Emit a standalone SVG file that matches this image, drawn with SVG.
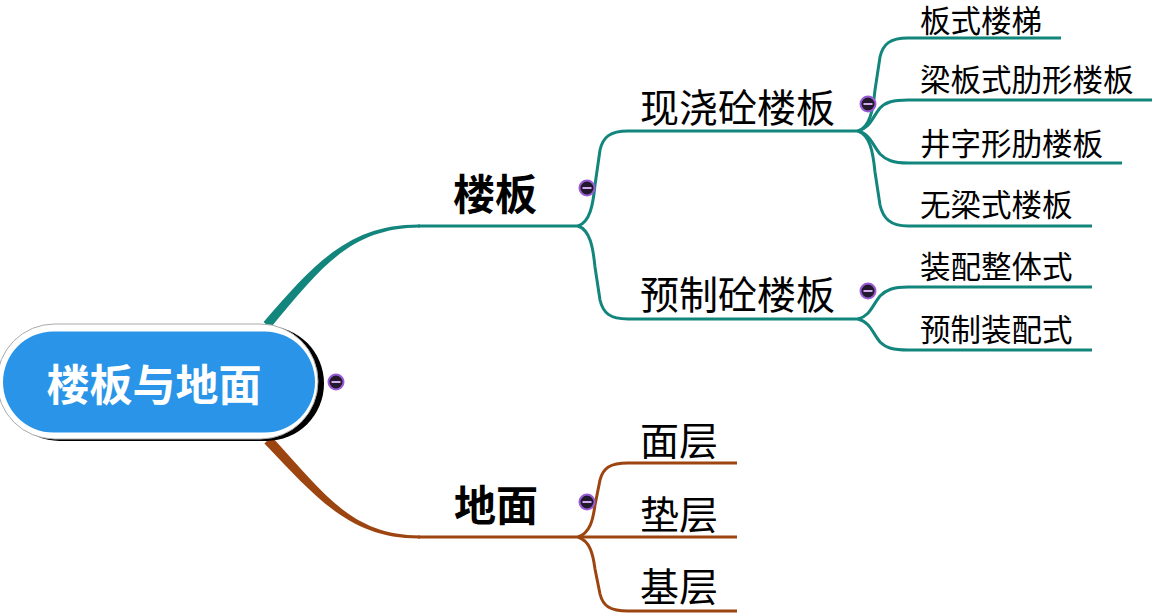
<svg xmlns="http://www.w3.org/2000/svg" width="1153" height="614" viewBox="0 0 1153 614">
<defs>
<style>
.t{fill:none;stroke:#12857D;stroke-width:3;stroke-linecap:butt}
.b{fill:none;stroke:#9C4511;stroke-width:3}
.tf{fill:#12857D}
.bf{fill:#9C4511}
.l1{font-family:"Noto Sans CJK SC","Liberation Sans",sans-serif;font-weight:700;font-size:42px;fill:#000;dominant-baseline:central}
.l2{font-family:"Noto Sans CJK SC","Liberation Sans",sans-serif;font-weight:400;font-size:39px;fill:#000;dominant-baseline:central}
.l3{font-family:"Noto Sans CJK SC","Liberation Sans",sans-serif;font-weight:400;font-size:30.5px;fill:#000;dominant-baseline:central}
.root{font-family:"Noto Sans CJK SC","Liberation Sans",sans-serif;font-weight:700;font-size:43px;fill:#fff;dominant-baseline:central}
</style>
<g id="btn">
<circle r="7.5" fill="#221a2c" stroke="#9A5CD6" stroke-width="2"/>
<line x1="-4.5" y1="0" x2="4.5" y2="0" stroke="#D2A8F0" stroke-width="2"/>
</g>
</defs>
<rect width="1153" height="614" fill="#fff"/>
<g id="connectors">
<path class="tf" d="M263.6,322.1 C315,262.5 350,224 420,224.5 L420,227.5 C350,228 321,267.5 270.4,327.9 Z"/>
<path class="t" d="M418,226 L580,226"/>
<path class="bf" d="M271.6,436.6 C323,492 350,535 420,535.5 L420,538.5 C350,539 317,498 264.4,443.4 Z"/>
<path class="b" d="M418,537 L580,537"/>
<path class="t" d="M578,226 C590,222 593,205 595,185 L600,150 C603,137 610,131 628,131 L860,131"/>
<path class="t" d="M578,226 C590,230 593,247 595,267 L600,300 C603,313 610,319 628,319 L860,319"/>
<path class="t" d="M858,131 C870,127 873,110 875,90 L880,57 C883,44 890,38 908,38 L1061,38"/>
<path class="t" d="M858,131 C870,128 872,118 880,108 C886,102 893,100 908,100 L1152,100"/>
<path class="t" d="M858,131 C870,134 872,144 880,154 C886,160 893,163 908,163 L1122,163"/>
<path class="t" d="M858,131 C870,135 873,152 875,172 L880,205 C883,218 890,226 908,226 L1092,226"/>
<path class="t" d="M858,319 C870,316 872,306 880,296 C886,290 893,287 908,287 L1092,287"/>
<path class="t" d="M858,319 C870,322 872,332 880,342 C886,348 893,350 908,350 L1092,350"/>
<path class="b" d="M578,537 C590,533 593,520 595,505 L600,480 C603,468 610,463 628,463 L737,463"/>
<path class="b" d="M578,537 L737,537"/>
<path class="b" d="M578,537 C590,541 593,554 595,569 L600,594 C603,606 610,611 628,611 L737,611"/>
</g>
<g id="root">
<rect x="2" y="326" width="322" height="115" rx="57.5" fill="#000"/>
<rect x="-3" y="324" width="321" height="115" rx="57.5" fill="#fff" stroke="#aaa" stroke-width="1"/>
<rect x="3" y="331.5" width="312" height="101" rx="50.5" fill="#2A95E8"/>
<text class="root" x="154" y="382" text-anchor="middle">楼板与地面</text>
<use href="#btn" x="336" y="382"/>
</g>
<g id="n-louban">
<text class="l1" x="453" y="191">楼板</text>
<use href="#btn" x="587" y="188"/>
</g>
<g id="n-xianjiao">
<text class="l2" x="640" y="105">现浇砼楼板</text>
<use href="#btn" x="868" y="104"/>
</g>
<g id="n-yuzhi">
<text class="l2" x="640" y="292">预制砼楼板</text>
<use href="#btn" x="868" y="291"/>
</g>
<g id="n-banshi"><text class="l3" x="920" y="19">板式楼梯</text></g>
<g id="n-liangban"><text class="l3" x="920" y="78">梁板式肋形楼板</text></g>
<g id="n-jingzi"><text class="l3" x="920" y="142">井字形肋楼板</text></g>
<g id="n-wuliang"><text class="l3" x="920" y="203">无梁式楼板</text></g>
<g id="n-zhuangpeizheng"><text class="l3" x="920" y="265">装配整体式</text></g>
<g id="n-yuzhizhuang"><text class="l3" x="920" y="328">预制装配式</text></g>
<g id="n-dimian">
<text class="l1" x="454" y="502">地面</text>
<use href="#btn" x="587" y="502"/>
</g>
<g id="n-mianceng"><text class="l2" x="640" y="438">面层</text></g>
<g id="n-dianceng"><text class="l2" x="640" y="512">垫层</text></g>
<g id="n-jiceng"><text class="l2" x="640" y="584">基层</text></g>
</svg>
